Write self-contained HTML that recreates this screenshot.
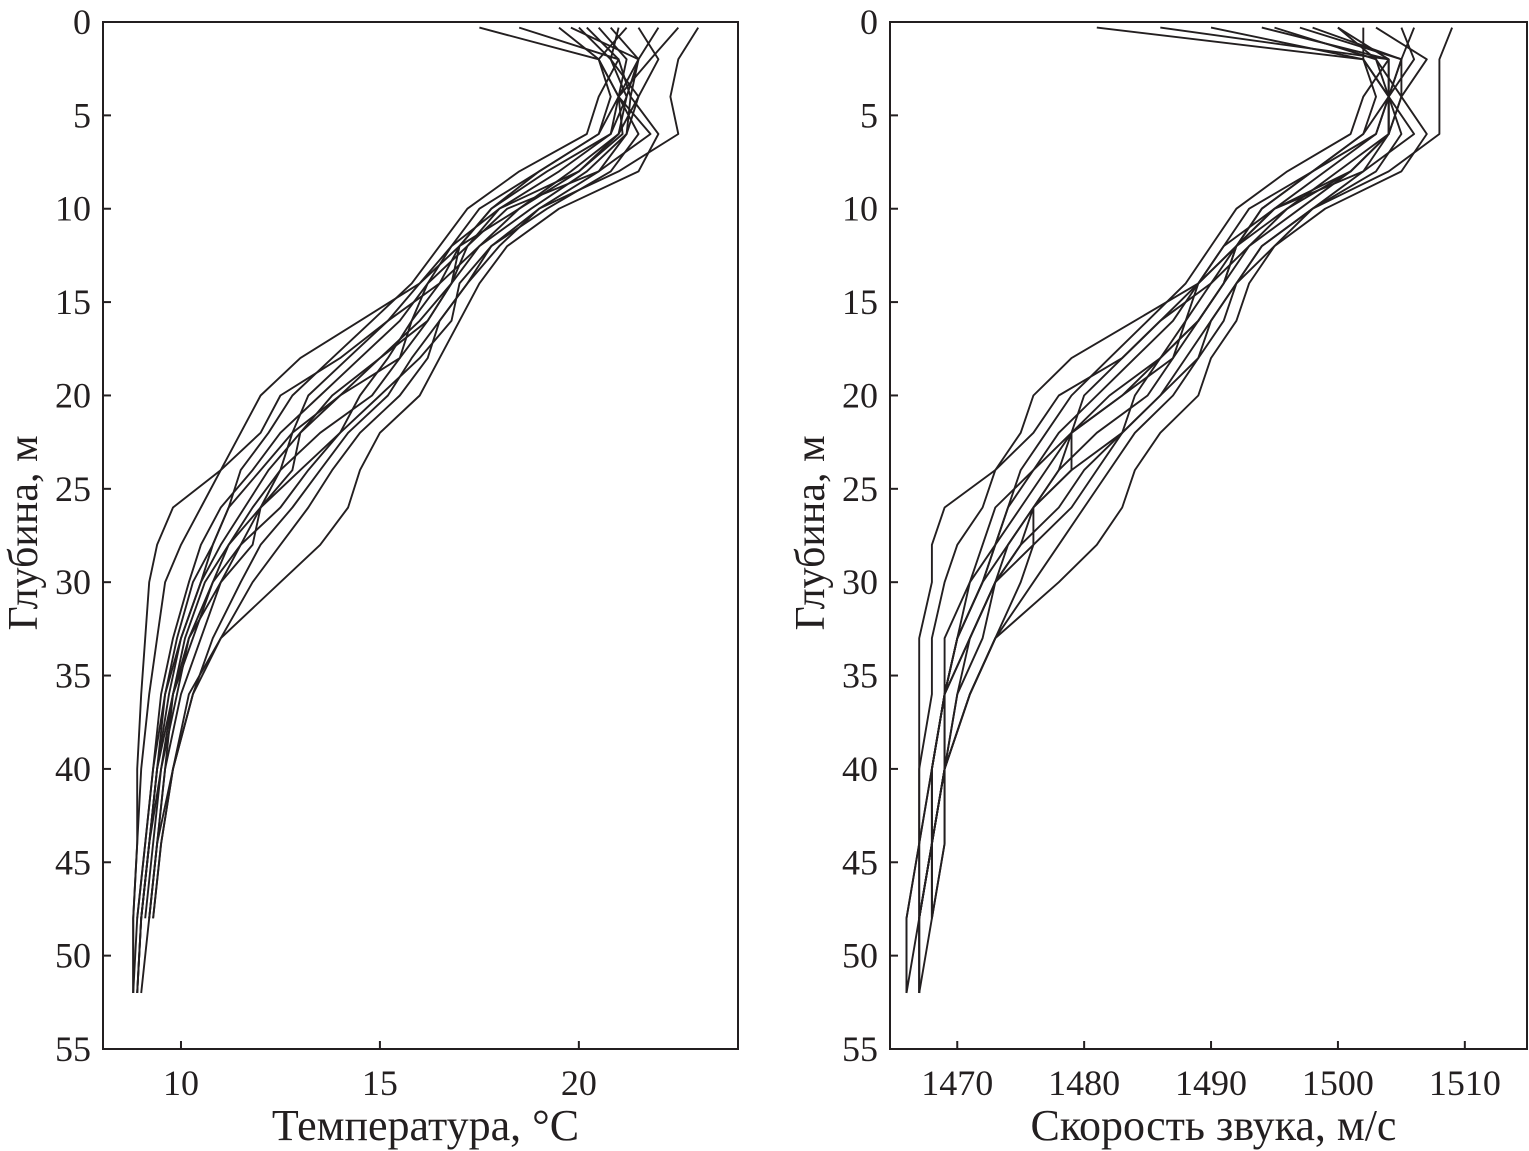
<!DOCTYPE html>
<html><head><meta charset="utf-8">
<style>
html,body{margin:0;padding:0;background:#fff;}
svg{display:block;}
text{font-family:"Liberation Serif",serif;fill:#231f20;}
</style></head>
<body>
<svg id="chart" width="1529" height="1151" viewBox="0 0 1529 1151" xmlns="http://www.w3.org/2000/svg"></svg>
<script>
const depths = [0.3,2,4,6,8,10,12,14,16,18,20,22,24,26,28,30,33,36,40,44,48,52];
const depthTicks = [0,5,10,15,20,25,30,35,40,45,50,55];
const tempTicks = [10,15,20];
const soundTicks = [1470,1480,1490,1500,1510];
const tempProfiles = [
[20.5,21.2,21.0,20.8,19.5,18.0,17.2,16.8,16.0,15.0,14.0,13.0,12.2,11.6,11.0,10.5,10.0,9.7,9.4,9.2,9.0,8.9],
[17.5,20.5,20.8,20.5,19.0,17.5,16.8,16.2,15.5,14.5,13.5,12.5,11.8,11.0,10.5,10.2,9.8,9.5,9.3,9.1,8.9,8.8],
[23.0,22.5,22.3,22.5,21.0,19.0,18.0,17.2,16.5,16.2,15.5,14.5,13.8,13.2,12.5,11.8,11.0,10.2,9.8,9.5,9.3,null],
[20.0,20.8,21.2,21.0,20.0,18.5,17.0,16.0,14.5,13.0,12.0,11.5,11.0,10.5,10.0,9.6,9.4,9.2,9.0,8.9,8.8,8.8],
[21.5,22.0,21.5,21.2,20.5,19.0,17.8,17.0,16.8,16.0,15.0,14.0,13.0,12.0,11.5,11.0,10.5,10.0,9.6,9.4,9.2,null],
[19.5,20.5,21.0,21.1,20.0,18.0,16.8,16.0,15.2,14.0,12.5,12.0,11.0,9.8,9.4,9.2,9.1,9.0,8.9,8.9,8.8,8.8],
[22.0,21.5,21.3,22.0,21.5,19.5,18.2,17.5,17.0,16.5,16.0,15.0,14.5,14.2,13.5,12.5,11.0,10.3,9.8,9.5,9.3,null],
[20.8,21.5,21.0,20.5,19.0,17.8,17.0,16.5,15.8,15.5,14.8,13.5,12.5,12.0,11.2,10.8,10.2,9.8,9.5,9.3,9.1,null],
[21.0,20.8,21.5,21.0,19.8,18.5,17.5,16.8,16.2,15.0,13.8,13.0,12.8,12.0,11.8,11.0,10.2,9.9,9.5,9.2,9.0,8.9],
[18.5,21.0,20.5,20.2,18.5,17.2,16.5,15.8,14.8,13.8,12.8,12.2,11.5,11.2,10.8,10.3,9.9,9.6,9.3,9.1,8.9,null],
[22.5,21.8,21.0,21.5,20.8,19.2,17.8,17.2,16.5,15.8,15.2,14.2,13.5,12.8,12.0,11.5,10.8,10.3,9.8,9.4,9.2,null],
[20.2,21.0,21.3,21.2,20.2,18.8,17.5,16.5,15.2,14.2,13.2,12.8,12.0,11.2,10.8,10.5,10.0,9.6,9.4,9.2,9.0,8.9],
[21.2,20.5,21.0,21.8,20.5,18.2,17.2,16.2,15.8,15.2,14.5,14.0,13.2,12.5,11.5,10.8,10.3,9.8,9.6,9.4,9.2,9.0],
[19.8,21.5,21.2,20.8,19.2,17.8,17.0,16.8,16.2,15.5,14.0,12.8,12.5,11.8,11.2,10.6,10.1,9.8,9.4,9.2,9.0,null]
];
const soundProfiles = [
[1500,1504,1504,1503,1499,1495,1492,1491,1489,1486,1483,1479,1477,1475,1473,1472,1470,1469,1468,1468,1467,1467],
[1481,1502,1503,1502,1498,1493,1491,1489,1487,1484,1481,1478,1476,1473,1472,1471,1469,1469,1468,1467,1467,1466],
[1509,1508,1508,1508,1504,1498,1495,1492,1490,1489,1487,1484,1482,1480,1478,1476,1473,1471,1469,1469,1468,null],
[1495,1503,1504,1504,1501,1496,1492,1489,1484,1479,1476,1475,1473,1472,1470,1469,1468,1468,1467,1467,1466,1466],
[1503,1507,1505,1504,1502,1498,1494,1492,1491,1489,1486,1483,1479,1476,1475,1473,1472,1470,1469,1468,1468,null],
[1490,1502,1504,1504,1501,1495,1491,1489,1486,1483,1478,1476,1473,1469,1468,1468,1467,1467,1467,1467,1466,1466],
[1506,1505,1505,1507,1505,1499,1495,1493,1492,1490,1489,1486,1484,1483,1481,1478,1473,1471,1469,1469,1468,null],
[1498,1505,1504,1502,1498,1494,1492,1490,1488,1487,1485,1481,1478,1476,1474,1473,1471,1469,1469,1468,1467,null],
[1500,1503,1505,1504,1500,1496,1493,1491,1489,1486,1482,1479,1479,1476,1476,1473,1471,1470,1469,1468,1467,1467],
[1486,1504,1502,1501,1496,1492,1490,1488,1485,1482,1479,1477,1475,1474,1473,1471,1470,1469,1468,1467,1467,null],
[1505,1506,1504,1505,1503,1498,1494,1492,1490,1488,1486,1483,1481,1479,1476,1475,1473,1471,1469,1468,1468,null],
[1494,1504,1504,1504,1501,1497,1493,1490,1486,1483,1480,1479,1476,1474,1473,1472,1470,1469,1468,1468,1467,1467],
[1502,1502,1504,1506,1502,1495,1492,1489,1488,1486,1484,1483,1480,1478,1475,1473,1471,1469,1469,1468,1468,1467],
[1497,1505,1504,1503,1498,1494,1492,1491,1489,1487,1483,1479,1478,1476,1474,1472,1470,1469,1468,1468,1467,null]
];

const NS = "http://www.w3.org/2000/svg";
const svgRoot = document.getElementById("chart");
function mk(tag, attrs, parent) {
  const e = document.createElementNS(NS, tag);
  for (const k in attrs) e.setAttribute(k, attrs[k]);
  (parent || svgRoot).appendChild(e);
  return e;
}
const plotTop = 22, plotBottom = 1049;
function yScale(d) { return plotTop + d / 55 * (plotBottom - plotTop); }

function drawPanel(cfg) {
  const g = mk("g", {});
  
  
  const x = v => cfg.left + (v - cfg.min) / (cfg.max - cfg.min) * (cfg.right - cfg.left);
  cfg.profiles.forEach((p, i) => {
    let d = "";
    p.forEach((v, j) => {
      if (v === null) return;
      d += (d ? "L" : "M") + x(v).toFixed(1) + "," + yScale(depths[j]).toFixed(1);
    });
    const path = mk("path", {d: d, fill: "none", stroke: "#231f20", "stroke-width": 1.9, "stroke-linejoin": "round"}, g);
    
    
  });
  const frame = mk("rect", {x: cfg.left, y: plotTop, width: cfg.right - cfg.left, height: plotBottom - plotTop, fill: "none", stroke: "#231f20", "stroke-width": 2}, g);
  
  
  depthTicks.forEach(t => {
    const y = yScale(t);
    mk("line", {x1: cfg.left, x2: cfg.left + 8, y1: y, y2: y, stroke: "#231f20", "stroke-width": 2}, g);
    const tx = mk("text", {x: cfg.left - 12, y: y + 12, "text-anchor": "end", "font-size": 36}, g);
    tx.textContent = t;
    
    
  });
  cfg.ticks.forEach(t => {
    const xx = x(t);
    mk("line", {x1: xx, x2: xx, y1: plotBottom, y2: plotBottom - 8, stroke: "#231f20", "stroke-width": 2}, g);
    const tx = mk("text", {x: xx, y: plotBottom + 46, "text-anchor": "middle", "font-size": 36}, g);
    tx.textContent = t;
    
    
  });
  const xt = mk("text", {x: (cfg.left + cfg.right) / 2 + 5, y: 1140, "text-anchor": "middle", "font-size": 44}, g);
  xt.textContent = cfg.xTitle;
  
  
  const yt = mk("text", {x: 0, y: 0, "text-anchor": "middle", "font-size": 42, transform: "translate(" + (cfg.left - 66) + ",533) rotate(-90)"}, g);
  yt.textContent = "Глубина, м";
  
  
}
drawPanel({name: "temperature-panel", left: 103, right: 738, min: 8.04, max: 24.0, ticks: tempTicks, profiles: tempProfiles, xTitle: "Температура, °С"});
drawPanel({name: "sound-speed-panel", left: 890, right: 1527, min: 1464.7, max: 1514.9, ticks: soundTicks, profiles: soundProfiles, xTitle: "Скорость звука, м/с"});
</script>
</body></html>
